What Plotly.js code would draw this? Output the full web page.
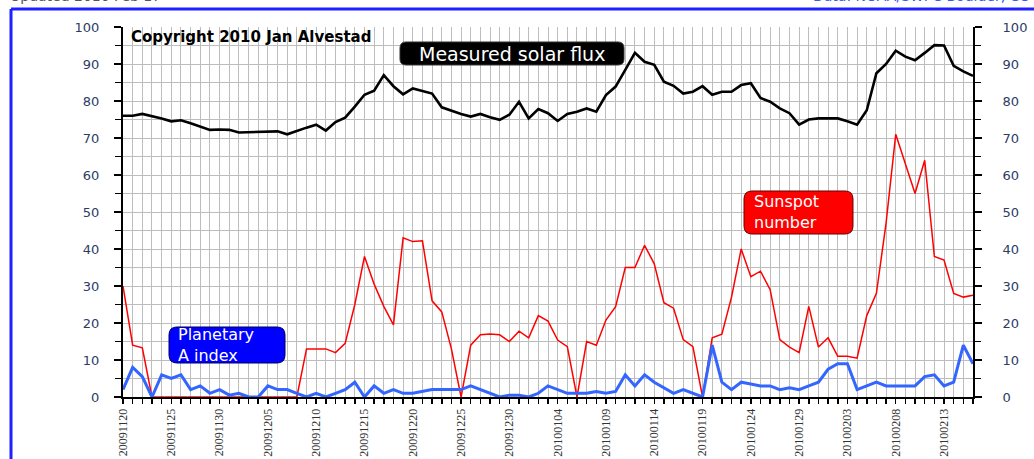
<!DOCTYPE html>
<html>
<head>
<meta charset="utf-8">
<script src="https://cdn.plot.ly/plotly-3.0.1.min.js"></script>
<style>html,body{margin:0;padding:0;background:#fff;}#chart{width:1034px;height:459px;}</style>
</head>
<body>
<div id="chart"></div>
<script>
// Dates (categories), one per day
const dates = [
 "20091120","20091121","20091122","20091123","20091124","20091125","20091126","20091127","20091128","20091129",
 "20091130","20091201","20091202","20091203","20091204","20091205","20091206","20091207","20091208","20091209",
 "20091210","20091211","20091212","20091213","20091214","20091215","20091216","20091217","20091218","20091219",
 "20091220","20091221","20091222","20091223","20091224","20091225","20091226","20091227","20091228","20091229",
 "20091230","20091231","20100101","20100102","20100103","20100104","20100105","20100106","20100107","20100108",
 "20100109","20100110","20100111","20100112","20100113","20100114","20100115","20100116","20100117","20100118",
 "20100119","20100120","20100121","20100122","20100123","20100124","20100125","20100126","20100127","20100128",
 "20100129","20100130","20100131","20100201","20100202","20100203","20100204","20100205","20100206","20100207",
 "20100208","20100209","20100210","20100211","20100212","20100213","20100214","20100215","20100216"
];
// Tick labels shown on the x axis
const tickLabels = ["20091120","20091125","20091130","20091205","20091210","20091215","20091220","20091225","20091230",
 "20100104","20100109","20100114","20100119","20100124","20100129","20100203","20100208","20100213"];

// Measured solar flux
const solarFlux = [
 76,76,76.5,76,75.3,74.5,74.8,74,73,72.2,
 72.3,72.2,71.5,71.6,71.7,71.8,71.8,71,72,72.8,
 73.6,72,74.3,75.5,78.5,81.7,82.8,87,84,81.8,
 83.4,82.8,82,78.3,77.3,76.5,75.8,76.5,75.6,74.9,
 76.3,79.8,75.3,77.8,76.7,74.6,76.5,77.1,78,77.1,
 81.6,83.9,88.4,93,90.6,89.8,85.2,84.1,82,82.5,
 84,81.7,82.5,82.5,84.3,84.8,80.8,79.8,78,76.7,
 73.6,75,75.3,75.3,75.3,74.5,73.6,77.5,87.5,90,
 93.6,92,91,93,95.1,95,89.5,88,86.8
];
// Sunspot number
const sunspots = [
 30,14,13.3,0,0,0,0,0,0,0,
 0,0,0,0,0,0,0,0,0,13,
 13,13,12,14.5,25,38,30.5,24.5,19.5,43,
 42,42.2,26,23,13,0,14,16.8,17,16.8,
 15,17.8,16,22,20.5,15.4,13.6,0,15,14,
 20.8,24.4,35,35,41,36,25.5,24,15.5,13.6,
 0,16,17,27,40,32.5,34,29,15.5,13.5,
 12,24.5,13.5,16,11,11,10.5,22,28,47,
 71,63,55,64,38,37,28,27,27.5
];
// Planetary A index
const aIndex = [
 2,8,5.5,0,6,5,6,2,3,1,
 2,0.5,1,0,0,3,2,2,1,0,
 1,0,1,2,4,0,3,1,2,1,
 1,1.5,2,2,2,2,3,2,1,0,
 0.5,0.5,0,1,3,2,1,1,1,1.5,
 1,1.5,6,3,6,4,2.5,1,2,1,
 0,14,4,2,4,3.5,3,3,2,2.5,
 2,3,4,7.5,9,9,2,3,4,3,
 3,3,3,5.5,6,3,4,14,9
];

// pixel -> paper helpers (plot area: x 123..973, y 27..397)
const X = px => (px - 123) / 850;
const Y = py => (397 - py) / 370;
function rrect(x0, y0, x1, y1, r) {
  const p = (a, b) => X(a).toFixed(5) + "," + Y(b).toFixed(5);
  return "M" + p(x0 + r, y0) + " L" + p(x1 - r, y0) + " Q" + p(x1, y0) + " " + p(x1, y0 + r) +
         " L" + p(x1, y1 - r) + " Q" + p(x1, y1) + " " + p(x1 - r, y1) +
         " L" + p(x0 + r, y1) + " Q" + p(x0, y1) + " " + p(x0, y1 - r) +
         " L" + p(x0, y0 + r) + " Q" + p(x0, y0) + " " + p(x0 + r, y0) + " Z";
}

const tickText = dates.map(d => tickLabels.includes(d) ? d : "");

const traces = [
  {x: dates, y: sunspots, type: "scatter", mode: "lines", name: "Sunspot number",
   line: {color: "#ff0000", width: 1.5}, hoverinfo: "x+y"},
  {x: dates, y: aIndex, type: "scatter", mode: "lines", name: "Planetary A index",
   line: {color: "#3366ff", width: 3}, hoverinfo: "x+y"},
  {x: dates, y: solarFlux, type: "scatter", mode: "lines", name: "Measured solar flux",
   yaxis: "y2", line: {color: "#000000", width: 2.6}, hoverinfo: "x+y"}
];

const tickFontY = {family: "DejaVu Sans", size: 13, color: "#2c3c64"};

const layout = {
  width: 1034, height: 459,
  margin: {l: 123, r: 61, t: 27, b: 62, pad: 0},
  paper_bgcolor: "#ffffff", plot_bgcolor: "#ffffff",
  showlegend: false,
  xaxis: {
    type: "category", range: [0, 88], tickmode: "array", tickvals: dates, ticktext: tickText,
    tickangle: -90, tickfont: {family: "Liberation Serif", size: 12, color: "#333333"},
    ticks: "outside", ticklen: 5, tickwidth: 1.5, tickcolor: "#000",
    showgrid: true, gridcolor: "#bdbdbd", gridwidth: 1,
    showline: true, linecolor: "#000", linewidth: 2, zeroline: false,
    layer: "below traces", ticklabelstandoff: 0
  },
  yaxis: {
    range: [0, 100], dtick: 10, tick0: 0, tickfont: tickFontY,
    ticks: "outside", ticklen: 7, tickwidth: 1.5, tickcolor: "#000",
    showgrid: true, gridcolor: "#bdbdbd", gridwidth: 1,
    minor: {dtick: 5, showgrid: true, gridcolor: "#bdbdbd", ticks: "outside", ticklen: 6, tickcolor: "#000"},
    showline: true, linecolor: "#000", linewidth: 2, zeroline: false,
    layer: "below traces", ticklabelstandoff: 12, fixedrange: true
  },
  yaxis2: {
    range: [0, 100], dtick: 10, tick0: 0, overlaying: "y", side: "right", anchor: "x",
    tickfont: tickFontY, ticks: "outside", ticklen: 7, tickwidth: 1.5, tickcolor: "#000",
    minor: {dtick: 5, ticks: "outside", ticklen: 6, tickcolor: "#000"},
    showgrid: false, showline: true, linecolor: "#000", linewidth: 2, zeroline: false,
    ticklabelstandoff: 18, fixedrange: true
  },
  shapes: [
    {type: "line", xref: "paper", yref: "paper", x0: X(11), y0: Y(9), x1: X(1040), y1: Y(9),
     line: {color: "#1f1fff", width: 3}, layer: "above"},
    {type: "line", xref: "paper", yref: "paper", x0: X(11), y0: Y(9), x1: X(11), y1: Y(470),
     line: {color: "#1f1fff", width: 3}, layer: "above"},
    {type: "path", xref: "paper", yref: "paper", path: rrect(400, 42, 624, 65, 6),
     fillcolor: "#000000", line: {color: "#333333", width: 1}, layer: "above"},
    {type: "path", xref: "paper", yref: "paper", path: rrect(744, 191, 853, 234, 8),
     fillcolor: "#ff0000", line: {color: "#660000", width: 1}, layer: "above"},
    {type: "path", xref: "paper", yref: "paper", path: rrect(169, 327, 285, 363, 8),
     fillcolor: "#0000ff", line: {color: "#000066", width: 1}, layer: "above"}
  ],
  annotations: [
    {xref: "paper", yref: "paper", x: X(129), y: Y(37), xanchor: "left", yanchor: "middle",
     text: "Copyright 2010 Jan Alvestad", showarrow: false,
     font: {family: "DejaVu Sans", size: 15, color: "#000", weight: "bold"}},
    {xref: "paper", yref: "paper", x: X(512), y: Y(53.5), xanchor: "center", yanchor: "middle",
     text: "Measured solar flux", showarrow: false,
     font: {family: "DejaVu Sans", size: 19, color: "#ffffff"}},
    {xref: "paper", yref: "paper", x: X(752), y: Y(212), xanchor: "left", yanchor: "middle", align: "left",
     text: "Sunspot<br>number", showarrow: false,
     font: {family: "DejaVu Sans", size: 16, color: "#ffffff"}},
    {xref: "paper", yref: "paper", x: X(176), y: Y(345), xanchor: "left", yanchor: "middle", align: "left",
     text: "Planetary<br>A index", showarrow: false,
     font: {family: "DejaVu Sans", size: 16, color: "#ffffff"}},
    {xref: "paper", yref: "paper", x: X(8), y: Y(6), xanchor: "left", yanchor: "bottom",
     text: "Updated 2010 Feb 17", showarrow: false,
     font: {family: "DejaVu Sans", size: 14, color: "#555555"}},
    {xref: "paper", yref: "paper", x: X(1032), y: Y(6), xanchor: "right", yanchor: "bottom",
     text: "Data: NOAA/SWPC Boulder, CO", showarrow: false,
     font: {family: "DejaVu Sans", size: 14, color: "#3a55ff"}}
  ]
};

Plotly.newPlot("chart", traces, layout, {displayModeBar: false, staticPlot: true});
</script>
</body>
</html>
